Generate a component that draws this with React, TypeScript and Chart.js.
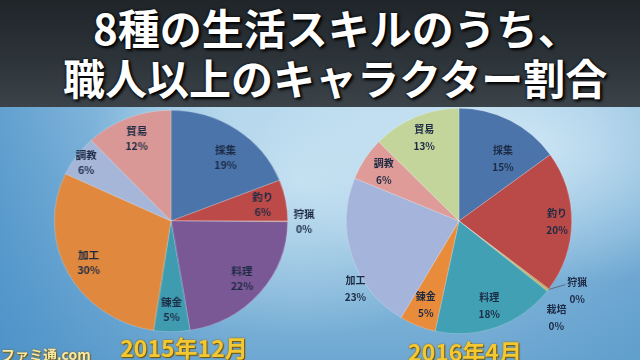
import React, { useEffect, useRef } from "react";
import { Chart, registerables } from "chart.js";

Chart.register(...registerables);

// ---- data ----
const TITLE_LINE1 = "8種の生活スキルのうち、";
const TITLE_LINE2 = "職人以上のキャラクター割合";

const LABEL_2015 = "2015年12月";
const CATEGORIES_2015 = ["採集", "釣り", "狩猟", "料理", "錬金", "加工", "調教", "貿易"];
const VALUES_2015 = [19, 6, 0.1, 22.3, 5, 29.6, 6, 12];
const COLORS_2015 = ["#4a74aa", "#bb4a48", "#d98a3e", "#7a5896", "#3e9bb0", "#e0883e", "#a5b6d8", "#d99896"];

const LABEL_2016 = "2016年4月";
const CATEGORIES_2016 = ["採集", "釣り", "狩猟", "栽培", "料理", "錬金", "加工", "調教", "貿易"];
const VALUES_2016 = [15, 20.3, 0.2, 0.2, 17.7, 5.2, 22.6, 6.2, 12.6];
const COLORS_2016 = ["#4a74aa", "#b94a48", "#e08a3e", "#9bbb59", "#41a0b4", "#e88c3c", "#a5b4da", "#de9b98", "#c4d59c"];

const WATERMARK = "ファミ通.com";

type Tweak = { r?: number; da?: number };
type LabelOpts = {
  radius: number;
  outsideRadius: number;
  outsideSpread: number;
  leader: boolean;
  gap: number;
  tweaks: Record<string, Tweak>;
};

const labelPlugin = {
  id: "sliceLabels",
  afterDatasetsDraw(chart: any, _args: any, opts: LabelOpts) {
    const ctx = chart.ctx as CanvasRenderingContext2D;
    const meta = chart.getDatasetMeta(0);
    const data = chart.data.datasets[0].data as number[];
    const labels = chart.data.labels as string[];
    const total = data.reduce((a, b) => a + b, 0);
    const zeros: number[] = [];
    data.forEach((v, i) => {
      if (v / total < 0.005) zeros.push(i);
    });
    ctx.save();
    ctx.font = "bold 10px 'Noto Sans CJK JP', sans-serif";
    ctx.textAlign = "center";
    ctx.textBaseline = "middle";
    ctx.fillStyle = "#1d2a44";
    meta.data.forEach((arc: any, i: number) => {
      const p = arc.getProps(["x", "y", "startAngle", "endAngle", "outerRadius"], true);
      const baseMid = (p.startAngle + p.endAngle) / 2;
      let mid = baseMid;
      let rf = opts.radius;
      const zi = zeros.indexOf(i);
      if (zi >= 0) {
        rf = opts.outsideRadius;
        mid += ((zi - (zeros.length - 1) / 2) * opts.outsideSpread * Math.PI) / 180;
      }
      const tw = opts.tweaks[labels[i]];
      if (tw) {
        if (tw.r !== undefined) rf = tw.r;
        if (tw.da !== undefined) mid += (tw.da * Math.PI) / 180;
      }
      const cx = p.x + Math.cos(mid) * p.outerRadius * rf;
      const cy = p.y + Math.sin(mid) * p.outerRadius * rf;
      const pct = Math.round((data[i] / total) * 100);
      ctx.fillText(labels[i], cx, cy - opts.gap / 2);
      ctx.fillText(pct + "%", cx, cy + opts.gap / 2);
      if (zi === 0 && opts.leader) {
        const w = ctx.measureText(labels[i]).width;
        ctx.beginPath();
        ctx.strokeStyle = "#5a6c84";
        ctx.lineWidth = 1;
        ctx.moveTo(p.x + Math.cos(baseMid) * p.outerRadius, p.y + Math.sin(baseMid) * p.outerRadius);
        ctx.lineTo(cx - w / 2 - 2, cy - opts.gap / 2 + 2);
        ctx.stroke();
      }
    });
    ctx.restore();
  },
};

type PieProps = {
  labels: string[];
  values: number[];
  colors: string[];
  left: number;
  top: number;
  pad: number;
  scaleX: number;
  labelOpts: LabelOpts;
};

function PieChart(props: PieProps) {
  const ref = useRef<HTMLCanvasElement>(null);
  useEffect(() => {
    const chart = new Chart(ref.current as HTMLCanvasElement, {
      type: "pie",
      data: {
        labels: props.labels,
        datasets: [
          {
            data: props.values,
            backgroundColor: props.colors,
            borderColor: "rgba(255,255,255,0.35)",
            borderWidth: 0.6,
          },
        ],
      },
      options: {
        responsive: false,
        animation: false,
        layout: { padding: { top: props.pad, bottom: props.pad } },
        plugins: {
          legend: { display: false },
          tooltip: { enabled: false },
          // @ts-ignore
          sliceLabels: props.labelOpts,
        },
      },
      plugins: [labelPlugin as any],
    });
    return () => chart.destroy();
  }, []);
  return (
    <div
      style={{
        position: "absolute",
        left: props.left,
        top: props.top,
        width: 300,
        height: 240,
        transform: `scaleX(${props.scaleX})`,
        transformOrigin: "50% 50%",
      }}
    >
      <canvas ref={ref} width={300} height={240} />
    </div>
  );
}

export default function App() {
  const titleStyle: React.CSSProperties = {
    position: "absolute",
    whiteSpace: "nowrap",
    color: "#ffffff",
    fontFamily: "'Noto Sans CJK JP', sans-serif",
    fontWeight: 700,
    fontSize: 42,
    lineHeight: "50px",
    textShadow: "0 0 3px #000, 2px 2px 3px #000",
    letterSpacing: 0,
  };
  const yearStyle: React.CSSProperties = {
    position: "absolute",
    whiteSpace: "nowrap",
    color: "#f3c832",
    fontFamily: "'Noto Sans CJK JP', sans-serif",
    fontWeight: 700,
    fontSize: 23,
    lineHeight: "26px",
    textShadow: "0 0 2px #8a6400, 1px 1px 1px #6a4c00",
    transform: "translateX(-50%)",
  };
  return (
    <div
      style={{
        position: "absolute",
        left: 0,
        top: 0,
        width: 640,
        height: 360,
        overflow: "hidden",
        background:
          "radial-gradient(ellipse 260px 140px at 520px 150px, rgba(215,236,248,0.85), rgba(215,236,248,0) 100%)," +
          "radial-gradient(ellipse 220px 160px at 300px 180px, rgba(205,230,244,0.8), rgba(205,230,244,0) 100%)," +
          "linear-gradient(90deg, rgba(60,135,195,0.65) 0%, rgba(60,135,195,0) 35%, rgba(60,135,195,0) 75%, rgba(70,140,195,0.35) 100%)," +
          "linear-gradient(180deg, #a9d0e8 30%, #6ea8d2 100%)",
      }}
    >
      <div
        style={{
          position: "absolute",
          left: 0,
          top: 0,
          width: 640,
          height: 107,
          background: "linear-gradient(180deg, #1f2529 0%, #2d3439 55%, #3b4349 100%)",
        }}
      />
      <div style={{ ...titleStyle, left: 93, top: 2 }}>{TITLE_LINE1}</div>
      <div style={{ ...titleStyle, left: 63, top: 52 }}>{TITLE_LINE2}</div>

      <PieChart
        labels={CATEGORIES_2015}
        values={VALUES_2015}
        colors={COLORS_2015}
        left={21}
        top={101}
        pad={9}
        scaleX={1.054}
        labelOpts={{
          radius: 0.8,
          outsideRadius: 1.14,
          outsideSpread: 0,
          leader: false,
          gap: 15,
          tweaks: { 調教: { r: 0.9 }, 採集: { r: 0.74, da: 5 } },
        }}
      />
      <PieChart
        labels={CATEGORIES_2016}
        values={VALUES_2016}
        colors={COLORS_2016}
        left={309}
        top={101}
        pad={7}
        scaleX={1}
        labelOpts={{
          radius: 0.8,
          outsideRadius: 1.22,
          outsideSpread: 13.5,
          leader: true,
          gap: 17,
          tweaks: { 加工: { r: 1.1, da: -15 }, 採集: { r: 0.68, da: 8 }, 釣り: { r: 0.87 } },
        }}
      />

      <div style={{ ...yearStyle, left: 184, top: 334 }}>{LABEL_2015}</div>
      <div style={{ ...yearStyle, left: 465, top: 338 }}>{LABEL_2016}</div>

      <div
        style={{
          position: "absolute",
          left: 1,
          top: 346,
          whiteSpace: "nowrap",
          fontFamily: "'Noto Sans CJK JP', sans-serif",
          fontWeight: 700,
          fontSize: 14,
          lineHeight: "16px",
          color: "#f6eaa8",
          textShadow: "0 0 2px #7a5a10, 1px 1px 1px #7a5a10",
        }}
      >
        {WATERMARK}
      </div>
    </div>
  );
}
